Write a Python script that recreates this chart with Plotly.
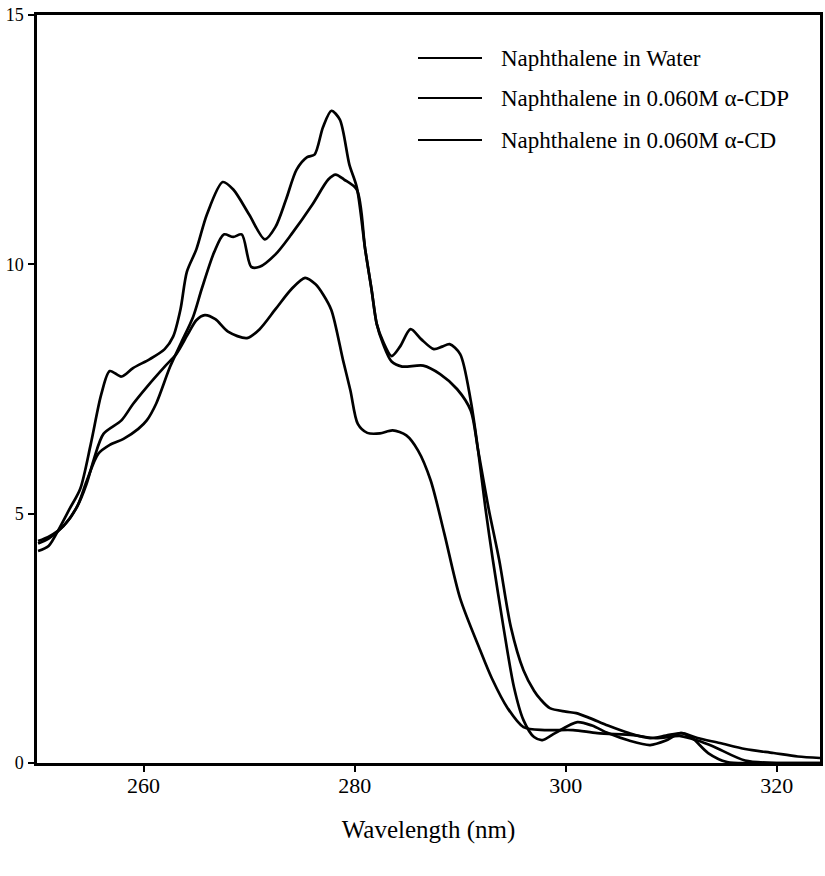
import plotly.graph_objects as go

# ---- data ----
names = ["Naphthalene in Water", "Naphthalene in 0.060M α-CDP", "Naphthalene in 0.060M α-CD"]

water_x = [250, 251.1, 252.4, 253.7, 254.6, 255.3, 256.2, 257.9, 259, 260.3, 262, 263.1, 264.2, 265,
           265.8, 266.8, 268, 269.8, 271, 272.5, 274, 275.3, 276.3, 277, 277.8, 278.9, 279.6, 280.3,
           281.2, 282.4, 283.6, 284.9, 286, 287.2, 288.5, 290, 291.9, 293, 294.5, 296, 298, 300.7,
           303, 306.4, 308.5, 310.9, 312.5, 314, 317, 320, 324.1]
water_y = [4.45, 4.55, 4.75, 5.14, 5.6, 6.1, 6.6, 6.87, 7.2, 7.54, 7.95, 8.2, 8.6, 8.88,
           8.98, 8.9, 8.65, 8.52, 8.7, 9.1, 9.5, 9.73, 9.6, 9.4, 9.08, 8.08, 7.47, 6.8,
           6.62, 6.61, 6.67, 6.57, 6.27, 5.67, 4.6, 3.3, 2.26, 1.7, 1.1, 0.72, 0.66, 0.66,
           0.6, 0.56, 0.5, 0.54, 0.45, 0.33, 0.05, 0.0, 0.0]

cdp_x = [250, 251, 252.4, 253.7, 254.6, 255.7, 256.8, 258.1, 259.5, 260.3, 261.2, 262.5, 263.5, 264.7,
         265.5, 266.7, 267.6, 268.5, 269.3, 270.2, 271, 272.5, 274, 276, 277.5, 278.2, 279, 280.2,
         281, 281.6, 282.1, 282.7, 283.5, 284.5, 286.5, 288.1, 289.7, 291, 291.7, 292.7, 293.7,
         294.8, 296, 297, 297.6, 298.5, 300, 301, 302.3, 304, 306, 308, 309.5, 311, 312.5, 314.6,
         317, 319.7, 322, 324.1]
cdp_y = [4.4, 4.5, 4.75, 5.14, 5.65, 6.2, 6.38, 6.5, 6.7, 6.87, 7.21, 7.94, 8.4, 8.95,
         9.5, 10.25, 10.6, 10.55, 10.6, 9.95, 9.95, 10.2, 10.6, 11.2, 11.7, 11.8, 11.7, 11.5,
         10.3, 9.5, 8.8, 8.4, 8.05, 7.95, 7.97, 7.8, 7.5, 7.07, 6.27, 5.1, 4.07,
         2.73, 1.86, 1.45, 1.28, 1.1, 1.03, 1.0, 0.9, 0.75, 0.6, 0.5, 0.55, 0.6, 0.5, 0.4,
         0.28, 0.2, 0.13, 0.1]

cd_x = [250, 251, 252, 253, 254, 255, 256, 256.8, 257.9, 259, 260.6, 262, 262.8, 263.5, 264.1, 265,
        266, 267.5, 268.5, 270, 271.5, 272.5, 273.5, 274.5, 275.5, 276.2, 277, 277.8, 278.6, 279.5,
        280.2, 281, 281.6, 282.1, 282.7, 283.5, 284.3, 285.3, 286.3, 287.5, 288.3, 289, 290, 291,
        291.7, 292.4, 293.1, 294.1, 295.1, 296, 297, 297.8, 299, 301.1, 302.5, 304, 306, 308, 309.5,
        310.9, 312, 313.5, 315.3, 318, 324.1]
cd_y = [4.25, 4.35, 4.7, 5.1, 5.5, 6.4, 7.4, 7.86, 7.75, 7.92, 8.1, 8.3, 8.55, 9.1, 9.85, 10.3,
        11.0, 11.65, 11.5, 11.0, 10.5, 10.75, 11.3, 11.9, 12.15, 12.2, 12.75, 13.08, 12.9, 12.0,
        11.55, 10.3, 9.5, 8.8, 8.45, 8.16, 8.35, 8.7, 8.5, 8.3, 8.35, 8.4, 8.2, 7.27,
        6.27, 5.1, 4.07, 2.73, 1.52, 0.86, 0.52, 0.46, 0.6, 0.82, 0.75, 0.6, 0.45, 0.36, 0.45,
        0.6, 0.5, 0.2, 0.02, 0.0, 0.0]

x_ticks = [260, 280, 300, 320]
y_ticks = [0, 5, 10, 15]
x_title = "Wavelength (nm)"

FONT = "Liberation Serif, Times New Roman, serif"

fig = go.Figure()
for i, (xs, ys) in enumerate([(water_x, water_y), (cdp_x, cdp_y), (cd_x, cd_y)]):
    fig.add_trace(go.Scatter(
        x=xs, y=ys, mode="lines", name=names[i], showlegend=False,
        line=dict(color="black", width=2.7, shape="spline", smoothing=0.8),
    ))

# custom legend (sample line + label), positioned in paper coordinates
L, R, T, B = 37, 5, 15, 113
W, H = 825, 876
pw, ph = W - L - R, H - T - B
legend_rows_px = [58, 98, 140]
for name, ypx in zip(names, legend_rows_px):
    yp = 1 - (ypx - T) / ph
    fig.add_shape(type="line", xref="paper", yref="paper",
                  x0=(418 - L) / pw, x1=(482 - L) / pw, y0=yp, y1=yp,
                  line=dict(color="black", width=2))
    fig.add_annotation(xref="paper", yref="paper", x=(499 - L) / pw, y=yp,
                       xanchor="left", yanchor="middle", text=name, showarrow=False,
                       font=dict(family=FONT, size=23, color="black"))

fig.update_layout(
    width=W, height=H,
    margin=dict(l=L, r=R, t=T, b=B, autoexpand=False),
    paper_bgcolor="white", plot_bgcolor="white",
    font=dict(family=FONT, color="black"),
    showlegend=False,
    xaxis=dict(
        range=[249.9, 324.1], tickvals=x_ticks, ticktext=[str(v) for v in x_ticks],
        showline=True, linecolor="black", linewidth=2.5, mirror=True,
        ticks="outside", ticklen=6, tickwidth=2, tickcolor="black",
        showgrid=False, zeroline=False, automargin=False,
        tickfont=dict(family=FONT, size=22, color="black"),
        ticklabelstandoff=-5,
        title=dict(text=x_title, font=dict(family=FONT, size=25, color="black"), standoff=24),
    ),
    yaxis=dict(
        range=[0, 15], tickvals=y_ticks, ticktext=[str(v) for v in y_ticks],
        showline=True, linecolor="black", linewidth=2.5, mirror=True,
        ticks="outside", ticklen=6, tickwidth=2, tickcolor="black",
        showgrid=False, zeroline=False, automargin=False,
        tickfont=dict(family=FONT, size=18, color="black"),
        ticklabelstandoff=1,
    ),
)

fig.write_html("out.html", config={"displayModeBar": False},
               post_script="document.body.style.margin='0';document.body.style.overflow='hidden';")
